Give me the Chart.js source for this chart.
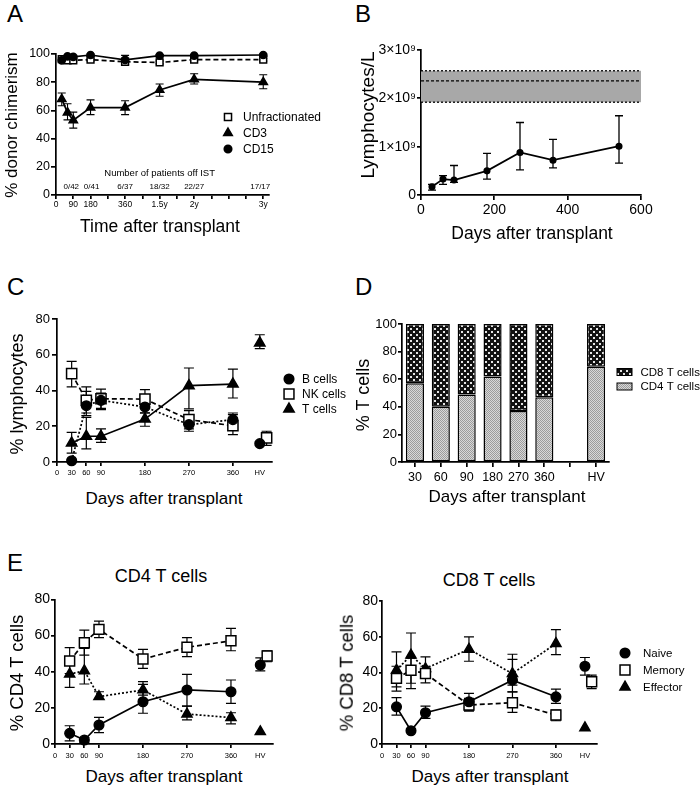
<!DOCTYPE html>
<html><head><meta charset="utf-8">
<script src="https://cdn.jsdelivr.net/npm/chart.js@4.4.1/dist/chart.umd.min.js"></script>
<style>
html,body{margin:0;padding:0;background:#fff;}
#page{position:relative;width:700px;height:788px;overflow:hidden;background:#fff;font-family:'Liberation Sans',Arial,Helvetica,sans-serif;color:#000;}
canvas{position:absolute;}
.t{position:absolute;white-space:nowrap;line-height:1;color:#000;}
</style></head><body><div id="page"></div>
<script>
// ================= DATA =================
// Panel A — % donor chimerism
const A_days = [30, 60, 90, 180, 360, 540, 720, 1080];
const A_unfrac    = [96.4, 95.5, 95.5, 96, 94.5, 94, 96, 96];
const A_unfrac_lo = [95.5, 94.5, 94.5, 95, 93, 93, 95, 95];
const A_unfrac_hi = [97.3, 96.5, 96.5, 97, 96, 95, 97, 97];
const A_cd3    = [68, 58.5, 53, 62, 62, 74.5, 82, 80];
const A_cd3_lo = [63.3, 53.3, 47.4, 57, 57, 70, 78.7, 75.4];
const A_cd3_hi = [72.3, 64.7, 58.8, 67.5, 66.8, 78.7, 86, 85.3];
const A_cd15    = [95.5, 98.3, 98, 99.3, 95.8, 98.8, 98.8, 99.3];
const A_cd15_lo = [94.5, 97.5, 97, 98.5, 92.5, 98, 98, 98.5];
const A_cd15_hi = [96.5, 99, 99, 100, 99, 99.6, 99.6, 100];
const A_tickDays = [0, 90, 180, 270, 360, 450, 540, 630, 720, 810, 900, 990, 1080];
const A_tickText = ['0', '90', '180', '', '360', '', '1.5y', '', '2y', '', '', '', '3y'];
const A_istDays = [90, 180, 360, 540, 720, 1080];
const A_istText = ['0/42', '0/41', '6/37', '18/32', '22/27', '17/17'];

// Panel B — lymphocytes / L
const B_days  = [30, 60, 90, 180, 270, 360, 540];
const B_lymph = [0.17e9, 0.33e9, 0.31e9, 0.50e9, 0.88e9, 0.72e9, 1.01e9];
const B_lo    = [0.10e9, 0.22e9, 0.26e9, 0.33e9, 0.52e9, 0.56e9, 0.66e9];
const B_hi    = [0.22e9, 0.40e9, 0.61e9, 0.86e9, 1.50e9, 1.15e9, 1.64e9];
const B_band     = [1.92e9, 2.36e9, 2.57e9];   // normal range: low, median, high
const B_bandDays = [0, 600];
const B_yTickText = ['0', '1×10⁹', '2×10⁹', '3×10⁹'];

// Panel C — % lymphocytes
const C_days = [30, 60, 90, 180, 270, 360];
const C_B     = [0.7, 31.5, 34.5, 30.8, 20.9, 23.7];
const C_B_lo  = [0, 26, 29.3, 27.5, 17.2, 20.9];
const C_B_hi  = [1.4, 39.5, 38.6, 34, 26.5, 27.4];
const C_NK    = [49.4, 34.5, 35.4, 35.2, 23.7, 20.3];
const C_NK_lo = [42, 27.4, 30, 31, 18.5, 15.3];
const C_NK_hi = [56.3, 42, 40.8, 40.5, 28.7, 26.5];
const C_T     = [10.6, 14.4, 14.4, 24, 42.7, 43.6];
const C_T_lo  = [5, 7.3, 11, 20, 29.7, 35.8];
const C_T_hi  = [16.6, 25, 18.5, 27.4, 52.6, 52];
const C_hv    = [10.3, 13.5, 66.6];     // B, NK, T in healthy volunteers
const C_hv_lo = [9.5, 9.3, 63.4];
const C_hv_hi = [11.2, 17.2, 71.2];
const C_tickDays = [0, 30, 60, 90, 180, 270, 360, 415];
const C_tickText = ['0', '30', '60', '90', '180', '270', '360', 'HV'];

// Panel D — % T cells
const D_cats = ['30', '60', '90', '180', '270', '360', '', 'HV'];
const D_CD4  = [57, 40, 49, 62, 37, 47, null, 69];
const D_CD8  = [43, 60, 51, 38, 63, 53, null, 31];

// Panel E — CD4 T cells
const E_days = [30, 60, 90, 180, 270, 360];
const E4_naive     = [5.9, 2.2, 10.5, 23.4, 29.9, 28.9];
const E4_naive_lo  = [1.7, 0.8, 6.3, 17, 21, 22.5];
const E4_naive_hi  = [10.1, 3.6, 14.7, 34.5, 38.5, 35.4];
const E4_memory    = [45.9, 56, 63.4, 47, 53.5, 57.1];
const E4_memory_lo = [39, 49.2, 58.8, 41.8, 48.3, 51.6];
const E4_memory_hi = [53.3, 63, 68, 52.3, 58.8, 64];
const E4_eff       = [38.7, 40.5, 26.2, 29.9, 16.6, 14.6];
const E4_eff_lo    = [31.3, 33.2, 24.9, 27, 13.3, 11.1];
const E4_eff_hi    = [48.3, 52.9, 28.9, 33, 21, 17.3];
const E4_hv    = [43.7, 48.7, 6.8];     // naive, memory, effector
const E4_hv_lo = [40.5, 45.5, null];
const E4_hv_hi = [47.7, 51.6, null];
// Panel E — CD8 T cells
const E8_naive     = [20.8, 7.4, 17.5, 23.6, 35.7, 26.4];
const E8_naive_lo  = [16.2, 6.5, 14.3, 19, 29.2, 22.7];
const E8_naive_hi  = [26, 8.3, 21.2, 28.3, 47.3, 30.7];
const E8_memory    = [36.7, 41.3, 39.4, 21.8, 23.1, 16.2];
const E8_memory_lo = [29.6, 34, 34.2, 18.4, 17.7, 13];
const E8_memory_hi = [43.5, 48, 43.5, 25.5, 29.2, 19];
const E8_eff       = [41.3, 49.7, 42.2, 53, 39.4, 56.2];
const E8_eff_lo    = [32, 31, 37.2, 46.3, 32.9, 50];
const E8_eff_hi    = [51.5, 62.1, 48.7, 59.9, 50.2, 64];
const E8_hv    = [43.5, 34.8, 9.1];
const E8_hv_lo = [38.5, 31, null];
const E8_hv_hi = [48.4, 38.5, null];
const E_tickDays = [0, 30, 60, 90, 180, 270, 360, 420];
const E_tickText = ['0', '30', '60', '90', '180', '270', '360', 'HV'];

// ================= RENDERING =================
const FONT = "'Liberation Sans', Arial, Helvetica, sans-serif";
const LW = 1.7;
const page = document.getElementById('page');

function makeCanvas(x, y, w, h) {
  const c = document.createElement('canvas');
  c.width = w; c.height = h;
  c.style.left = x + 'px'; c.style.top = y + 'px';
  c.style.width = w + 'px'; c.style.height = h + 'px';
  page.appendChild(c);
  return c;
}
function text(str, x, y, size, rot) {
  const d = document.createElement('div');
  d.className = 't';
  d.textContent = str;
  d.style.left = x + 'px'; d.style.top = y + 'px';
  d.style.fontSize = size + 'px';
  d.style.transform = 'translate(-50%,-50%)' + (rot ? ' rotate(-90deg)' : '');
  page.appendChild(d);
}
function letter(str, x, y) {
  const d = document.createElement('div');
  d.className = 't';
  d.textContent = str;
  d.style.left = x + 'px'; d.style.top = y + 'px';
  d.style.fontSize = '24px';
  page.appendChild(d);
}

function drawMarker(ctx, style, x, y, r, fill) {
  ctx.save();
  ctx.lineWidth = 1.5; ctx.strokeStyle = '#000'; ctx.fillStyle = fill;
  ctx.beginPath();
  if (style === 'circle') ctx.arc(x, y, r, 0, Math.PI * 2);
  else if (style === 'rect') { const s = Math.SQRT1_2 * r; ctx.rect(x - s, y - s, 2 * s, 2 * s); }
  else if (style === 'triangle') {
    ctx.moveTo(x, y - r);
    ctx.lineTo(x + 0.866 * r, y + 0.5 * r);
    ctx.lineTo(x - 0.866 * r, y + 0.5 * r);
    ctx.closePath();
  }
  ctx.fill(); ctx.stroke();
  ctx.restore();
}

const errorBars = {
  id: 'errorBars',
  beforeDatasetsDraw(chart, args, opts) {
    const ctx = chart.ctx, cap = opts.cap || 4;
    ctx.save();
    ctx.strokeStyle = '#000'; ctx.lineWidth = opts.lineWidth || 1.2; ctx.setLineDash([]);
    chart.data.datasets.forEach((ds, i) => {
      if (!ds.errLo) return;
      const meta = chart.getDatasetMeta(i);
      const xs = chart.scales[meta.xAxisID], ys = chart.scales[meta.yAxisID];
      ds.data.forEach((p, j) => {
        const lo = ds.errLo[j], hi = ds.errHi[j];
        if (lo == null || hi == null) return;
        const x = xs.getPixelForValue(p.x);
        const y1 = ys.getPixelForValue(lo), y2 = ys.getPixelForValue(hi);
        ctx.beginPath();
        ctx.moveTo(x, y1); ctx.lineTo(x, y2);
        ctx.moveTo(x - cap, y1); ctx.lineTo(x + cap, y1);
        ctx.moveTo(x - cap, y2); ctx.lineTo(x + cap, y2);
        ctx.stroke();
      });
    });
    ctx.restore();
  }
};

const customLegend = {
  id: 'customLegend',
  afterDraw(chart, args, opts) {
    if (!opts.items) return;
    const ctx = chart.ctx;
    opts.items.forEach((it, k) => {
      const cx = opts.x, cy = opts.y + k * opts.dy;
      if (it.style === 'swatch') {
        ctx.save();
        ctx.fillStyle = it.fill; ctx.fillRect(cx - 7.5, cy - 3.5, 15, 7);
        ctx.strokeStyle = '#000'; ctx.lineWidth = 1; ctx.strokeRect(cx - 7.5, cy - 3.5, 15, 7);
        ctx.restore();
      } else {
        drawMarker(ctx, it.style, cx, cy, it.r, it.fill);
      }
      ctx.save();
      ctx.fillStyle = '#000'; ctx.font = opts.font + 'px ' + FONT;
      ctx.textBaseline = 'middle'; ctx.textAlign = 'left';
      ctx.fillText(it.label, cx + opts.tx, cy + 0.5);
      ctx.restore();
    });
  }
};

const istText = {
  id: 'istText',
  afterDatasetsDraw(chart, args, opts) {
    if (!opts.days) return;
    const ctx = chart.ctx, xs = chart.scales.x, ys = chart.scales.y;
    ctx.save();
    ctx.fillStyle = '#000'; ctx.textAlign = 'center'; ctx.textBaseline = 'middle';
    ctx.font = '9.5px ' + FONT;
    ctx.fillText(opts.heading, xs.getPixelForValue(opts.headingAt[0]), ys.getPixelForValue(opts.headingAt[1]));
    ctx.font = '8px ' + FONT;
    opts.days.forEach((d, i) => ctx.fillText(opts.labels[i], xs.getPixelForValue(d) + opts.dx[i], ys.getPixelForValue(opts.y)));
    ctx.restore();
  }
};

const refBand = {
  id: 'refBand',
  beforeDatasetsDraw(chart, args, opts) {
    if (!opts.band) return;
    const ctx = chart.ctx, xs = chart.scales.x, ys = chart.scales.y;
    const x1 = xs.getPixelForValue(opts.days[0]), x2 = xs.getPixelForValue(opts.days[1]);
    const yLo = ys.getPixelForValue(opts.band[0]), yMid = ys.getPixelForValue(opts.band[1]), yHi = ys.getPixelForValue(opts.band[2]);
    ctx.save();
    ctx.fillStyle = '#a8a8a8';
    ctx.fillRect(x1, yHi, x2 - x1, yLo - yHi);
    ctx.strokeStyle = '#000'; ctx.lineWidth = 1.3;
    ctx.setLineDash([2, 2]);
    [yLo, yHi].forEach(y => { ctx.beginPath(); ctx.moveTo(x1, y); ctx.lineTo(x2, y); ctx.stroke(); });
    ctx.setLineDash([3, 2]);
    ctx.beginPath(); ctx.moveTo(x1, yMid); ctx.lineTo(x2, yMid); ctx.stroke();
    ctx.restore();
  }
};

function yAxis(min, max, step, width, size, tickLen, pad, labels) {
  const o = {
    type: 'linear', min, max,
    ticks: { stepSize: step, color: '#000', font: { family: FONT, size }, padding: pad },
    grid: { drawOnChartArea: false, drawTicks: true, tickLength: tickLen, color: '#000', lineWidth: LW },
    border: { display: true, color: '#000', width: LW },
    afterFit: s => { s.width = width; }
  };
  if (labels) o.ticks.callback = (v, i) => labels[i];
  return o;
}
function xLinear(min, max, vals, texts, height, size, tickLen, pad, hidden) {
  hidden = hidden || [];
  return {
    type: 'linear', min, max,
    afterBuildTicks: s => { s.ticks = vals.map(v => ({ value: v })); },
    ticks: { autoSkip: false, maxRotation: 0, minRotation: 0, color: '#000', font: { family: FONT, size }, padding: pad,
             callback: (v, i) => texts[i] },
    grid: { drawOnChartArea: false, drawTicks: true, tickLength: tickLen, lineWidth: LW,
            color: c => (c.tick && hidden.includes(c.tick.value)) ? 'rgba(0,0,0,0)' : '#000' },
    border: { display: true, color: '#000', width: LW },
    afterFit: s => { s.height = height; }
  };
}
function series(xs, ys, lo, hi, st) {
  return Object.assign({
    data: xs.map((x, i) => ({ x, y: ys[i] })),
    errLo: lo, errHi: hi,
    showLine: true, borderColor: '#000', borderWidth: LW, tension: 0,
    pointBorderColor: '#000', pointBorderWidth: 1.5, clip: false
  }, st);
}
function hvPoint(x, y, lo, hi, st) {
  return Object.assign({
    data: [{ x, y }], errLo: [lo], errHi: [hi],
    showLine: false, borderColor: '#000', pointBorderColor: '#000', pointBorderWidth: 1.5, clip: false
  }, st);
}
function baseOptions(pad, scales, plugins) {
  return {
    responsive: false, animation: false, events: [],
    layout: { padding: pad },
    scales,
    plugins: Object.assign({ legend: { display: false }, tooltip: { enabled: false } }, plugins)
  };
}
const CIRC = (r) => ({ pointStyle: 'circle', pointRadius: r, pointBackgroundColor: '#000' });
const SQR  = (r) => ({ pointStyle: 'rect', pointRadius: r, pointBackgroundColor: '#fff' });
const TRI  = (r) => ({ pointStyle: 'triangle', pointRadius: r, pointBackgroundColor: '#000' });

// ---------- Panel A ----------
new Chart(makeCanvas(0, 40, 340, 180), {
  type: 'scatter',
  data: { datasets: [
    series(A_days, A_cd15, A_cd15_lo, A_cd15_hi, CIRC(3.6)),
    series(A_days, A_cd3, A_cd3_lo, A_cd3_hi, TRI(4.8)),
    series(A_days, A_unfrac, A_unfrac_lo, A_unfrac_hi, Object.assign(SQR(4.8), { borderDash: [5, 3] }))
  ] },
  options: baseOptions({ left: 26, top: 14, right: 71, bottom: 7 }, {
    x: xLinear(0, 1110, A_tickDays, A_tickText, 18, 8.5, 4, 1),
    y: yAxis(0, 100, 20, 30, 12.5, 5, 1)
  }, {
    errorBars: { cap: 4, lineWidth: 1.1 },
    istText: { days: A_istDays, labels: A_istText, dx: [-2, 1, 0, 0, 0, -3], y: 5.5,
               heading: 'Number of patients off IST', headingAt: [540, 15] },
    customLegend: { x: 228, y: 77, dy: 16, tx: 15, font: 12, items: [
      { style: 'rect', r: 5, fill: '#fff', label: 'Unfractionated' },
      { style: 'triangle', r: 5, fill: '#000', label: 'CD3' },
      { style: 'circle', r: 3.8, fill: '#000', label: 'CD15' }
    ] }
  }),
  plugins: [errorBars, istText, customLegend]
});

// ---------- Panel B ----------
new Chart(makeCanvas(350, 35, 350, 190), {
  type: 'scatter',
  data: { datasets: [ series(B_days, B_lymph, B_lo, B_hi, CIRC(2.8)) ] },
  options: baseOptions({ left: 11, top: 15, right: 59, bottom: 8 }, {
    x: xLinear(0, 600, [0, 200, 400, 600], ['0', '200', '400', '600'], 22, 14, 5, 2),
    y: yAxis(0, 3e9, 1e9, 60, 14, 4, 1, B_yTickText)
  }, {
    errorBars: { cap: 4, lineWidth: 1.3 },
    refBand: { band: B_band, days: B_bandDays }
  }),
  plugins: [refBand, errorBars]
});

// ---------- Panel C ----------
new Chart(makeCanvas(0, 305, 350, 180), {
  type: 'scatter',
  data: { datasets: [
    series(C_days, C_B, C_B_lo, C_B_hi, Object.assign(CIRC(4.8), { borderDash: [2, 2] })),
    series(C_days, C_NK, C_NK_lo, C_NK_hi, Object.assign(SQR(7.2), { borderDash: [5, 3] })),
    series(C_days, C_T, C_T_lo, C_T_hi, TRI(6)),
    hvPoint(415, C_hv[0], C_hv_lo[0], C_hv_hi[0], CIRC(4.8)),
    hvPoint(429, C_hv[1], C_hv_lo[1], C_hv_hi[1], SQR(7.2)),
    hvPoint(415, C_hv[2], C_hv_lo[2], C_hv_hi[2], TRI(6))
  ] },
  options: baseOptions({ left: 27, top: 14, right: 78, bottom: 7 }, {
    x: xLinear(0, 440, C_tickDays, C_tickText, 16, 7.5, 4, 2, [415]),
    y: yAxis(0, 80, 20, 30, 13, 5, 2)
  }, {
    errorBars: { cap: 5, lineWidth: 1.2 },
    customLegend: { x: 289, y: 74, dy: 15, tx: 13, font: 12, items: [
      { style: 'circle', r: 4.8, fill: '#000', label: 'B cells' },
      { style: 'rect', r: 7, fill: '#fff', label: 'NK cells' },
      { style: 'triangle', r: 6, fill: '#000', label: 'T cells' }
    ] }
  }),
  plugins: [errorBars, customLegend]
});

// ---------- Panel D ----------
const cD = makeCanvas(350, 310, 350, 180);
const dctx = cD.getContext('2d');
function tile(size, bg, fg, cells) {
  const t = document.createElement('canvas'); t.width = size; t.height = size;
  const c = t.getContext('2d'); c.fillStyle = bg; c.fillRect(0, 0, size, size);
  c.fillStyle = fg; cells.forEach(q => c.fillRect(q[0], q[1], q[2], q[3]));
  return dctx.createPattern(t, 'repeat');
}
const patCD4 = tile(2, '#d8d8d8', '#9c9c9c', [[0, 0, 1, 1], [1, 1, 1, 1]]);
const patCD8 = tile(6, '#111111', '#e4e4e4', [[0, 0, 2, 2], [3, 3, 2, 2]]);
new Chart(cD, {
  type: 'bar',
  data: { labels: D_cats, datasets: [
    { data: D_CD4, backgroundColor: patCD4, borderColor: '#000', borderWidth: 1.5, borderSkipped: false, barPercentage: 0.7, categoryPercentage: 1 },
    { data: D_CD8, backgroundColor: patCD8, borderColor: '#000', borderWidth: 1.5, borderSkipped: false, barPercentage: 0.7, categoryPercentage: 1 }
  ] },
  options: baseOptions({ left: 20, top: 14, right: 91, bottom: 6 }, {
    x: { stacked: true,
         ticks: { color: '#000', font: { family: FONT, size: 12.5 }, padding: 3, autoSkip: false, maxRotation: 0 },
         grid: { offset: false, drawOnChartArea: false, drawTicks: true, tickLength: 5, color: '#000', lineWidth: LW },
         border: { display: true, color: '#000', width: LW },
         afterFit: s => { s.height = 22; } },
    y: Object.assign(yAxis(0, 100, 20, 32, 13, 4, 1), { stacked: true })
  }, {
    customLegend: { x: 274.5, y: 62, dy: 14.5, tx: 16, font: 11.5, items: [
      { style: 'swatch', fill: patCD8, label: 'CD8 T cells' },
      { style: 'swatch', fill: patCD4, label: 'CD4 T cells' }
    ] }
  }),
  plugins: [customLegend]
});

// ---------- Panel E left (CD4) ----------
new Chart(makeCanvas(0, 590, 350, 175), {
  type: 'scatter',
  data: { datasets: [
    series(E_days, E4_naive, E4_naive_lo, E4_naive_hi, CIRC(4.8)),
    series(E_days, E4_memory, E4_memory_lo, E4_memory_hi, Object.assign(SQR(7), { borderDash: [5, 3] })),
    series(E_days, E4_eff, E4_eff_lo, E4_eff_hi, Object.assign(TRI(5.8), { borderDash: [2, 2] })),
    hvPoint(420, E4_hv[0], E4_hv_lo[0], E4_hv_hi[0], CIRC(4.8)),
    hvPoint(434, E4_hv[1], E4_hv_lo[1], E4_hv_hi[1], SQR(7)),
    hvPoint(420, E4_hv[2], E4_hv_lo[2], E4_hv_hi[2], TRI(5.8))
  ] },
  options: baseOptions({ left: 25, top: 9, right: 77, bottom: 5 }, {
    x: xLinear(0, 446, E_tickDays, E_tickText, 16, 7.5, 4, 3, [420]),
    y: yAxis(0, 80, 20, 30, 14, 4, 1)
  }, { errorBars: { cap: 5, lineWidth: 1.2 } }),
  plugins: [errorBars]
});

// ---------- Panel E right (CD8) ----------
new Chart(makeCanvas(350, 590, 350, 175), {
  type: 'scatter',
  data: { datasets: [
    series(E_days, E8_naive, E8_naive_lo, E8_naive_hi, CIRC(4.8)),
    series(E_days, E8_memory, E8_memory_lo, E8_memory_hi, Object.assign(SQR(7), { borderDash: [5, 3] })),
    series(E_days, E8_eff, E8_eff_lo, E8_eff_hi, Object.assign(TRI(5.8), { borderDash: [2, 2] })),
    hvPoint(420, E8_hv[0], E8_hv_lo[0], E8_hv_hi[0], CIRC(4.8)),
    hvPoint(434, E8_hv[1], E8_hv_lo[1], E8_hv_hi[1], SQR(7)),
    hvPoint(420, E8_hv[2], E8_hv_lo[2], E8_hv_hi[2], TRI(5.8))
  ] },
  options: baseOptions({ left: 4, top: 11, right: 103, bottom: 5 }, {
    x: xLinear(0, 445, E_tickDays, E_tickText, 16, 7.5, 4, 3, [420]),
    y: yAxis(0, 80, 20, 28, 14, 3, 1)
  }, {
    errorBars: { cap: 5, lineWidth: 1.2 },
    customLegend: { x: 275, y: 63, dy: 17, tx: 18, font: 11.5, items: [
      { style: 'circle', r: 4.8, fill: '#000', label: 'Naive' },
      { style: 'rect', r: 7, fill: '#fff', label: 'Memory' },
      { style: 'triangle', r: 5.8, fill: '#000', label: 'Effector' }
    ] }
  }),
  plugins: [errorBars, customLegend]
});

// ---------- Text: panel letters, axis titles ----------
letter('A', 7, 2); letter('B', 355, 2); letter('C', 7, 275); letter('D', 355, 275); letter('E', 7, 551);
text('% donor chimerism', 11, 125, 17, true);
text('Time after transplant', 160, 227, 17.5);
text('Lymphocytes/L', 367, 115, 19, true);
text('Days after transplant', 532, 234, 17.5);
text('% lymphocytes', 17, 394, 18, true);
text('Days after transplant', 164, 498, 17);
text('% T cells', 363, 395, 18, true);
text('Days after transplant', 507, 496, 17);
text('CD4 T cells', 161, 576, 18);
text('CD8 T cells', 489, 580, 18);
text('% CD4 T cells', 17, 673, 18.5, true);
text('Days after transplant', 164, 776, 17);
text('% CD8 T cells', 347, 673, 18.5, true);
text('Days after transplant', 490, 776, 17);
</script></body></html>
